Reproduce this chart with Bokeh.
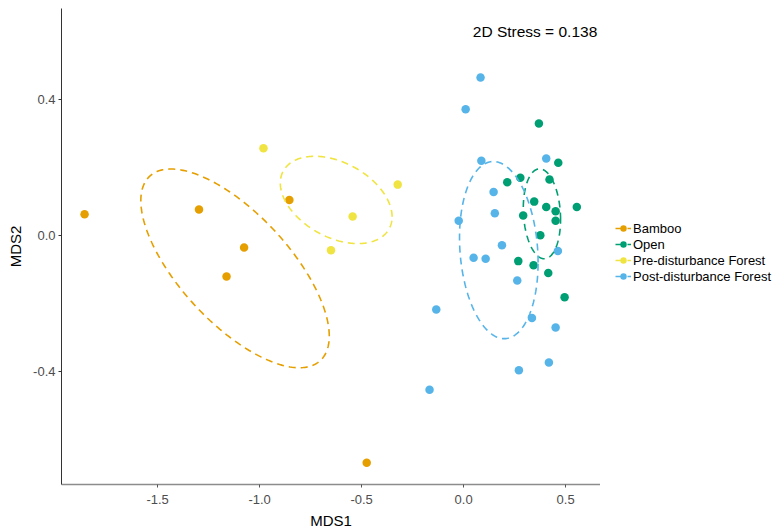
import numpy as np
from bokeh.plotting import figure
from bokeh.layouts import row
from bokeh.models import Legend, LegendItem, FixedTicker, ColumnDataSource, Range1d
from bokeh.embed import file_html
from bokeh.resources import INLINE
from bokeh.core.properties import value

# ---------------- data ----------------
groups = ["Bamboo", "Open", "Pre-disturbance Forest", "Post-disturbance Forest"]
colors = ["#E69F00", "#009E73", "#F0E442", "#56B4E9"]

bamboo_x = [-1.858, -1.297, -1.076, -1.162, -0.854, -0.475]
bamboo_y = [0.062, 0.076, -0.036, -0.121, 0.104, -0.669]

open_x = [0.369, 0.464, 0.214, 0.278, 0.421, 0.346, 0.405, 0.555, 0.451, 0.292,
          0.451, 0.376, 0.268, 0.343, 0.415, 0.495]
open_y = [0.329, 0.213, 0.156, 0.169, 0.164, 0.099, 0.083, 0.083, 0.071, 0.058,
          0.043, 0.000, -0.076, -0.088, -0.111, -0.182]

pre_x = [-0.981, -0.544, -0.650, -0.323]
pre_y = [0.256, 0.055, -0.044, 0.149]

post_x = [0.083, 0.010, 0.087, 0.405, 0.147, 0.153, -0.024, 0.188, 0.049, 0.108,
          0.462, 0.263, -0.134, 0.335, 0.451, 0.418, 0.271, -0.167]
post_y = [0.464, 0.371, 0.219, 0.226, 0.127, 0.065, 0.043, -0.029, -0.066, -0.069,
          -0.046, -0.133, -0.218, -0.243, -0.271, -0.374, -0.397, -0.454]

x_ticks = [-1.5, -1.0, -0.5, 0.0, 0.5]
x_tick_labels = ["-1.5", "-1.0", "-0.5", "0.0", "0.5"]
y_ticks = [-0.4, 0.0, 0.4]
y_tick_labels = ["-0.4", "0.0", "0.4"]

stress_text = ["2D Stress = 0.138"]
stress_x = [0.35]
stress_y = [0.60]

series_x = [bamboo_x, open_x, pre_x, post_x]
series_y = [bamboo_y, open_y, pre_y, post_y]


def sd_ellipse(x, y, n=240):
    """Standard-deviation ellipse (centroid + covariance), like vegan::ordiellipse(kind='sd')."""
    x = np.asarray(x, float)
    y = np.asarray(y, float)
    c = np.cov(x, y)
    L = np.linalg.cholesky(c)
    t = np.linspace(0, 2 * np.pi, n)
    pts = L @ np.vstack([np.cos(t), np.sin(t)])
    return x.mean() + pts[0], y.mean() + pts[1]


FONT = "Liberation Sans"
DASH = "7 5"
PT = 8.5
LW = 1.6

p = figure(width=600, height=531,
           x_range=(-1.971, 0.671), y_range=(-0.733, 0.667),
           output_backend="svg", toolbar_location=None,
           min_border_left=61, min_border_right=0,
           min_border_top=8, min_border_bottom=47)

p.xgrid.visible = False
p.ygrid.visible = False
p.outline_line_color = None
p.background_fill_color = "white"
p.border_fill_color = "white"

for g, col, xs, ys in zip(groups, colors, series_x, series_y):
    src = ColumnDataSource(dict(x=xs, y=ys))
    p.scatter("x", "y", source=src, size=PT, fill_color=col, line_color=None)

for g, col, xs, ys in zip(groups, colors, series_x, series_y):
    ex, ey = sd_ellipse(xs, ys)
    p.line(ex, ey, line_color=col, line_width=LW, line_dash=DASH)

p.text(x=stress_x, y=stress_y, text=stress_text, text_font=value(FONT),
       text_font_size="15.5px", text_align="center", text_baseline="middle",
       text_color="black")

# axes
for ax in (p.xaxis[0], p.yaxis[0]):
    ax.minor_tick_line_color = None
    ax.major_tick_in = 0
    ax.major_tick_out = 3
    ax.major_label_text_font = FONT
    ax.major_label_text_font_size = "13px"
    ax.major_label_text_color = "#4D4D4D"
    ax.axis_label_text_font = FONT
    ax.axis_label_text_font_size = "15px"
    ax.axis_label_text_font_style = "normal"
    ax.axis_label_text_color = "black"

p.xaxis[0].ticker = FixedTicker(ticks=x_ticks)
p.xaxis[0].major_label_overrides = dict(zip(x_ticks, x_tick_labels))
p.yaxis[0].ticker = FixedTicker(ticks=y_ticks)
p.yaxis[0].major_label_overrides = dict(zip(y_ticks, y_tick_labels))
p.xaxis[0].axis_label = "MDS1"
p.yaxis[0].axis_label = "MDS2"
p.xaxis[0].axis_line_color = "#8c8c8c"
p.xaxis[0].axis_line_width = 1.3
p.xaxis[0].major_tick_line_color = "#555555"
p.yaxis[0].axis_line_color = "#333333"
p.yaxis[0].major_tick_line_color = "#333333"
p.xaxis[0].major_label_standoff = 7
p.xaxis[0].axis_label_standoff = 5
p.yaxis[0].major_label_standoff = 3
p.yaxis[0].axis_label_standoff = 6

# ---------------- legend panel (separate figure to the right) ----------------
# ranges deliberately far away from the data so the proxy renderers stay off-screen
lg = figure(width=177, height=531, output_backend="svg", toolbar_location=None,
            x_range=Range1d(10, 11), y_range=Range1d(10, 11),
            x_axis_type=None, y_axis_type=None,
            min_border_left=0, min_border_right=0, min_border_top=0, min_border_bottom=0)
lg.xgrid.visible = False
lg.ygrid.visible = False
lg.outline_line_color = None
lg.background_fill_color = "white"
lg.border_fill_color = "white"

items = []
for g, col, xs, ys in zip(groups, colors, series_x, series_y):
    src = ColumnDataSource(dict(x=xs, y=ys))
    l = lg.line("x", "y", source=src, line_color=col, line_width=LW, line_dash=DASH)
    s = lg.scatter("x", "y", source=src, size=PT, fill_color=col, line_color=None)
    items.append(LegendItem(label=g, renderers=[l, s]))

legend = Legend(items=items, location=(15, 200), orientation="vertical")
legend.padding = 0
legend.margin = 0
legend.spacing = 0
legend.glyph_width = 16
legend.glyph_height = 16
legend.label_height = 16
legend.label_standoff = 2
legend.label_text_font = FONT
legend.label_text_font_size = "13px"
legend.label_text_color = "black"
legend.border_line_color = None
legend.background_fill_alpha = 0
lg.add_layout(legend, "center")

layout = row(p, lg)

open("out.html", "w").write(file_html(layout, INLINE))
